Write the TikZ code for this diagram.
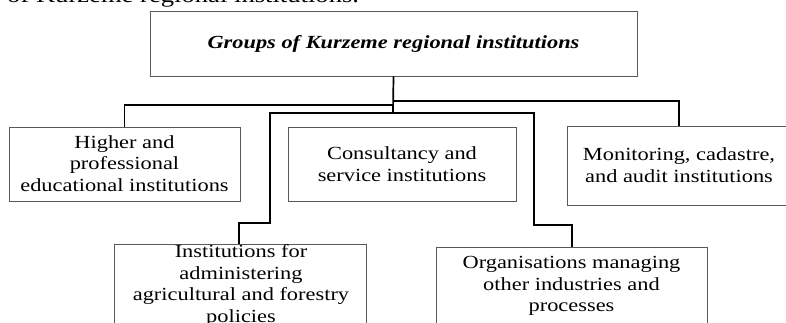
\documentclass[tikz,border=0pt]{standalone}
\usepackage{fontspec}
\setmainfont[FakeStretch=1.21]{Liberation Serif}
\begin{document}
\begin{tikzpicture}[x=1pt,y=-1pt,
  box/.style={draw=black!65, line width=0.9pt, inner sep=0pt},
  conn/.style={draw=black, line width=1.7pt},
  lbl/.style={align=center, font=\fontsize{18.5}{21.5}\selectfont, inner sep=0pt}]
\useasboundingbox (0,0) rectangle (786,323);
\clip (0,0) rectangle (786,323);
% cut-off running text at the top
\node[anchor=base west, inner sep=0pt, font=\fontsize{22}{26}\selectfont] (head) at (7,3) {of Kurzeme regional institutions.};
% boxes
\node[box, minimum width=487pt, minimum height=65pt] (top) at (393.5,43.5) {};
\node[lbl, font=\fontsize{18.5}{21}\selectfont\bfseries\itshape] (toplbl) at (top.center) {Groups of Kurzeme regional institutions};
\node[box, minimum width=231pt, minimum height=74pt] (higher) at (124.5,164) {};
\node[lbl] (higherlbl) at (124.5,163.5) {Higher and\\professional\\educational institutions};
\node[box, minimum width=228pt, minimum height=74pt] (consult) at (402,164) {};
\node[lbl] (consultlbl) at (402,164) {Consultancy and\\service institutions};
\node[box, minimum width=224pt, minimum height=79pt] (monit) at (679,165.5) {};
\node[lbl] (monitlbl) at (679,165) {Monitoring, cadastre,\\and audit institutions};
\node[box, minimum width=252pt, minimum height=84pt] (inst) at (240,286) {};
\node[lbl] (instlbl) at (241,285.5) {Institutions for\\administering\\agricultural and forestry\\policies};
\node[box, minimum width=271pt, minimum height=78pt] (org) at (571.5,286) {};
\node[lbl] (orglbl) at (571.5,286) {Organisations managing\\other industries and\\processes};
% connector bend points
\coordinate (tb) at (393,113);
\coordinate (jl) at (393,105);
\coordinate (jr) at (393,101);
\coordinate (il1) at (270,113);
\coordinate (il2) at (270,223);
\coordinate (il3) at (239,223);
\coordinate (or1) at (534,113);
\coordinate (or2) at (534,225);
\coordinate (or3) at (572,225);
% connectors
\draw[conn] (top.south) -- (tb);
\draw[conn] (jl) -| (higher.north);
\draw[conn] (jr) -| (monit.north);
\draw[conn] (tb) -- (il1) -- (il2) -- (il3) -- (il3 |- inst.north);
\draw[conn] (tb) -- (or1) -- (or2) -- (or3) -- (or3 |- org.north);
\end{tikzpicture}
\end{document}
